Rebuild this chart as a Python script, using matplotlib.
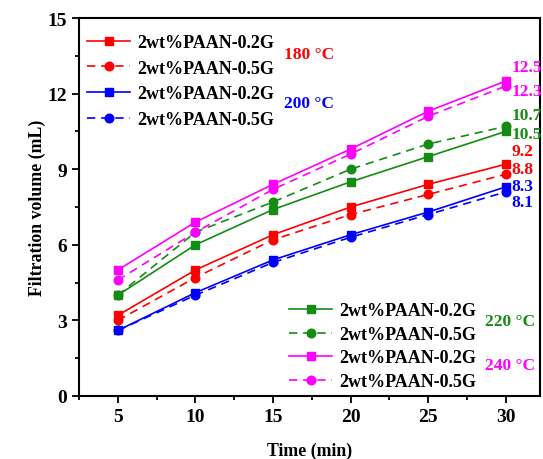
import matplotlib
matplotlib.use("Agg")
import matplotlib.pyplot as plt
from matplotlib.ticker import MultipleLocator

plt.rcParams['font.family'] = ['Liberation Serif', 'DejaVu Serif']
plt.rcParams['font.weight'] = 'bold'

time = [5, 10, 15, 20, 25, 30]
red_02 = [3.2, 5.0, 6.4, 7.5, 8.4, 9.2]
red_05 = [3.0, 4.7, 6.2, 7.2, 8.0, 8.8]
blue_02 = [2.6, 4.1, 5.4, 6.4, 7.3, 8.3]
blue_05 = [2.6, 4.0, 5.3, 6.3, 7.2, 8.1]
green_02 = [4.0, 6.0, 7.4, 8.5, 9.5, 10.5]
green_05 = [4.0, 6.5, 7.7, 9.0, 10.0, 10.7]
mag_02 = [5.0, 6.9, 8.4, 9.8, 11.3, 12.5]
mag_05 = [4.6, 6.5, 8.2, 9.6, 11.1, 12.3]

label_02 = "2wt%PAAN-0.2G"
label_05 = "2wt%PAAN-0.5G"
temps = ["180 °C", "200 °C", "220 °C", "240 °C"]
end_labels = ["12.5", "12.3", "10.7", "10.5", "9.2", "8.8", "8.3", "8.1"]

RED = '#ff0000'
BLUE = '#0000ff'
GREEN = '#148c14'
MAG = '#ff00ff'

fig = plt.figure(figsize=(5.43, 4.60), dpi=100)
ax = fig.add_axes([79/543, 1-397/460, (540-79)/543, (397-19)/460])

lw = 1.2
ms = 6.2
dash = (0, (5, 3.5))

def plot_pair(y2, y5, c):
    l1, = ax.plot(time, y2, color=c, lw=lw, marker='s', ms=ms, label=label_02)
    l2, = ax.plot(time, y5, color=c, lw=lw, ls=dash, marker='o', ms=ms, label=label_05)
    return l1, l2

r = plot_pair(red_02, red_05, RED)
b = plot_pair(blue_02, blue_05, BLUE)
g = plot_pair(green_02, green_05, GREEN)
m = plot_pair(mag_02, mag_05, MAG)

ax.set_xlim(2.5, 32.2)
ax.set_ylim(0, 15)
ax.xaxis.set_major_locator(MultipleLocator(5))
ax.xaxis.set_minor_locator(MultipleLocator(2.5))
ax.yaxis.set_major_locator(MultipleLocator(3))
ax.yaxis.set_minor_locator(MultipleLocator(1.5))
ax.tick_params(which='both', direction='out', width=1.3, labelsize=14)
ax.tick_params(which='major', length=5)
ax.tick_params(which='minor', length=3)
for s in ax.spines.values():
    s.set_linewidth(1.5)
for t in ax.get_xticklabels() + ax.get_yticklabels():
    t.set_fontweight('bold')

ax.set_xlabel("Time (min)", fontsize=12.8, fontweight='bold', labelpad=12)
ax.set_ylabel("Filtration volume (mL)", fontsize=12.8, fontweight='bold', labelpad=1)

base_kw = dict(frameon=False, handlelength=2.4, handletextpad=0.4,
               borderaxespad=0, borderpad=0, prop={'weight': 'bold', 'size': 13})
leg1 = ax.legend(handles=[r[0], r[1], b[0], b[1]], loc='upper left',
                 bbox_to_anchor=(0.017, 1 - (35 - 19) / 378), labelspacing=0.48, **base_kw)
ax.add_artist(leg1)
leg2 = ax.legend(handles=[g[0], g[1], m[0], m[1]], loc='lower left',
                 bbox_to_anchor=(0.4555, (397 - 391) / 378), labelspacing=0.36, **base_kw)

tkw = dict(fontsize=12.5, fontweight='bold', ha='left', va='center', transform=ax.transAxes)
ax.text((284-79)/461, 1-(55-19)/378, temps[0], color=RED, **tkw)
ax.text((284-79)/461, 1-(104-19)/378, temps[1], color=BLUE, **tkw)
ax.text((485-79)/461, 1-(322-19)/378, temps[2], color=GREEN, **tkw)
ax.text((485-79)/461, 1-(366-19)/378, temps[3], color=MAG, **tkw)

vkw = dict(fontsize=12.5, fontweight='bold', ha='left', va='center')
val_colors = [MAG, MAG, GREEN, GREEN, RED, RED, BLUE, BLUE]
val_y = [13.05, 12.1, 11.15, 10.4, 9.72, 9.0, 8.33, 7.7]
for txt, c, yy in zip(end_labels, val_colors, val_y):
    ax.text(30.35, yy, txt, color=c, **vkw)

fig.savefig("out.png", dpi=100)
